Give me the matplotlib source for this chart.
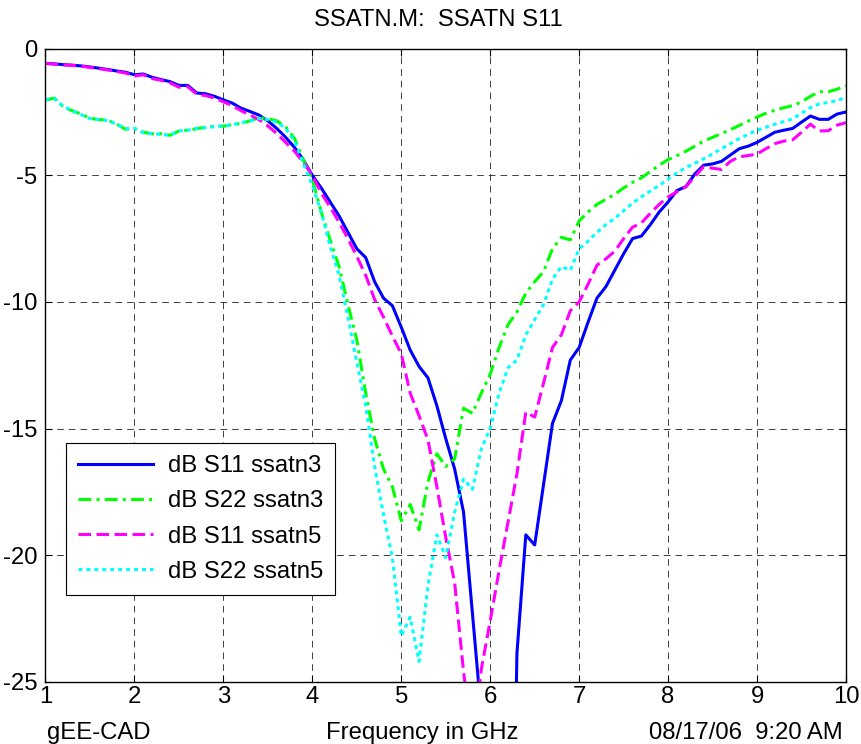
import numpy as np
import matplotlib
matplotlib.use("Agg")
import matplotlib.pyplot as plt

plt.rcParams['font.family'] = ['Liberation Sans', 'DejaVu Sans']
plt.rcParams['axes.unicode_minus'] = False

freq = np.round(np.arange(1.0, 10.001, 0.1), 1)

s11_ssatn3 = [
    -0.58, -0.60, -0.63, -0.65, -0.68, -0.72, -0.77, -0.82, -0.88, -0.93,
    -1.03, -1.00, -1.13, -1.22, -1.30, -1.45, -1.45, -1.75, -1.78, -1.88,
    -2.02, -2.15, -2.35, -2.48, -2.62, -2.85, -3.15, -3.50, -3.90, -4.40,
    -5.00, -5.50, -6.05, -6.60, -7.25, -7.90, -8.25, -9.20, -9.85, -10.15,
    -11.00, -11.90, -12.55, -13.00, -14.10, -15.40, -16.60, -18.30, -22.30, -26.30,
    -32.0, -38.0, -45.0, -23.90, -19.20, -19.60, -17.20, -14.80, -13.90, -12.30,
    -11.80, -10.80, -9.85, -9.40, -8.75, -8.10, -7.50, -7.40, -6.95, -6.45,
    -6.05, -5.60, -5.45, -4.95, -4.60, -4.55, -4.45, -4.20, -3.95, -3.85,
    -3.70, -3.50, -3.30, -3.22, -3.15, -2.90, -2.66, -2.79, -2.79, -2.58,
    -2.50]

s22_ssatn3 = [
    -2.03, -1.95, -2.30, -2.45, -2.58, -2.75, -2.80, -2.82, -2.98, -3.18,
    -3.15, -3.30, -3.36, -3.36, -3.42, -3.25, -3.22, -3.16, -3.10, -3.06,
    -3.06, -3.00, -2.95, -2.85, -2.72, -2.76, -2.85, -3.08, -3.55, -4.40,
    -5.15, -6.45, -7.55, -8.60, -10.10, -11.50, -13.60, -15.40, -16.60, -17.30,
    -18.65, -18.00, -19.00, -17.10, -16.00, -16.50, -16.20, -14.20, -14.40, -13.60,
    -12.85, -11.80, -10.90, -10.40, -9.65, -9.20, -8.80, -7.90, -7.45, -7.55,
    -6.80, -6.45, -6.15, -5.95, -5.75, -5.50, -5.28, -5.10, -4.85, -4.60,
    -4.38, -4.22, -4.05, -3.85, -3.65, -3.50, -3.35, -3.20, -3.03, -2.86,
    -2.70, -2.55, -2.43, -2.33, -2.25, -2.10, -1.88, -1.70, -1.70, -1.60,
    -1.47]

s11_ssatn5 = [
    -0.58, -0.61, -0.64, -0.66, -0.69, -0.74, -0.79, -0.84, -0.90, -0.96,
    -1.08, -1.03, -1.18, -1.25, -1.35, -1.52, -1.50, -1.80, -1.85, -1.95,
    -2.10, -2.25, -2.45, -2.62, -2.80, -3.05, -3.35, -3.70, -4.05, -4.50,
    -5.00, -5.70, -6.25, -6.85, -7.50, -8.20, -8.95, -9.90, -10.60, -11.35,
    -12.05, -13.60, -14.50, -15.45, -17.30, -19.30, -21.10, -24.60, -27.50, -24.50,
    -22.60, -20.60, -18.70, -16.80, -14.35, -14.55, -13.20, -11.80, -11.30, -10.35,
    -10.00, -9.30, -8.55, -8.30, -8.00, -7.50, -7.05, -6.88, -6.50, -6.15,
    -5.85, -5.65, -5.45, -5.05, -4.66, -4.72, -4.77, -4.45, -4.27, -4.22,
    -4.16, -3.95, -3.75, -3.65, -3.60, -3.30, -2.98, -3.25, -3.24, -3.02,
    -2.92]

s22_ssatn5 = [
    -2.00, -1.97, -2.28, -2.45, -2.60, -2.76, -2.80, -2.84, -2.98, -3.16,
    -3.15, -3.32, -3.36, -3.38, -3.42, -3.25, -3.22, -3.15, -3.12, -3.08,
    -3.05, -3.00, -2.92, -2.85, -2.75, -2.80, -2.90, -3.15, -3.65, -4.55,
    -5.40, -6.45, -7.80, -8.95, -10.60, -12.40, -14.10, -16.50, -18.40, -20.10,
    -23.20, -22.45, -24.20, -21.20, -19.20, -20.10, -18.30, -17.00, -17.40, -15.80,
    -15.00, -13.60, -12.60, -12.30, -11.30, -10.70, -10.10, -9.10, -8.60, -8.75,
    -7.90, -7.60, -7.25, -6.95, -6.70, -6.40, -6.10, -5.85, -5.62, -5.40,
    -5.15, -4.90, -4.70, -4.52, -4.35, -4.15, -3.95, -3.75, -3.55, -3.38,
    -3.22, -3.10, -2.98, -2.88, -2.77, -2.55, -2.33, -2.18, -2.12, -2.05,
    -1.92]

labels = ["dB S11 ssatn3", "dB S22 ssatn3", "dB S11 ssatn5", "dB S22 ssatn5"]
xticks = [1, 2, 3, 4, 5, 6, 7, 8, 9, 10]
yticks = [-25, -20, -15, -10, -5, 0]
title = "SSATN.M:  SSATN S11"
xlabel = "Frequency in GHz"
left_note = "gEE-CAD"
right_note = "08/17/06  9:20 AM"

FS = 17.2
W, H = 862, 744
fig = plt.figure(figsize=(W / 100, H / 100), dpi=100)
fig.patch.set_facecolor('white')
ax = fig.add_axes([45.5 / W, 1 - 681.7 / H, (846 - 45.5) / W, (681.7 - 48.7) / H])

lw = 2.2
ax.plot(freq, s11_ssatn3, color='#0000ff', lw=lw, linestyle='-', label=labels[0])
ax.plot(freq, s22_ssatn3, color='#00ff00', lw=lw, linestyle=(0, (4.2, 1.7, 1.0, 1.7)), label=labels[1])
ax.plot(freq, s11_ssatn5, color='#ff00ff', lw=lw, linestyle=(0, (4.1, 1.8)), label=labels[2])
ax.plot(freq, s22_ssatn5, color='#00ffff', lw=lw, linestyle=(0, (1.3, 1.3)), label=labels[3])

ax.set_xlim(1, 10)
ax.set_ylim(-25, 0)
ax.set_xticks(xticks)
ax.set_xticklabels([str(t) for t in xticks])
ax.set_yticks(yticks)
ax.set_yticklabels([str(t) for t in yticks])
ax.grid(True, color='#202020', linestyle=(0, (8, 6)), linewidth=0.6)
ax.tick_params(direction='in', length=5, width=0.8, top=True, right=True,
               labelsize=FS, pad=3)
ax.tick_params(axis='y', pad=6)
for s in ax.spines.values():
    s.set_linewidth(1.0)
    s.set_color('black')

leg = ax.legend(loc='upper left', bbox_to_anchor=(66 / W, 1 - 443.3 / H),
                bbox_transform=fig.transFigure, fontsize=FS, fancybox=False,
                framealpha=1, edgecolor='black', borderpad=0.5,
                handlelength=3.15, handletextpad=0.6, labelspacing=0.55,
                borderaxespad=0)
leg.get_frame().set_linewidth(0.8)

fig.text(438.5 / W, 1 - 20 / H, title, ha='center', va='center', fontsize=FS)
fig.text(47 / W, 1 - 733 / H, left_note, ha='left', va='center', fontsize=FS)
fig.text(422 / W, 1 - 733 / H, xlabel, ha='center', va='center', fontsize=FS)
fig.text(843 / W, 1 - 733 / H, right_note, ha='right', va='center', fontsize=FS)

fig.savefig('out.png', dpi=100)
